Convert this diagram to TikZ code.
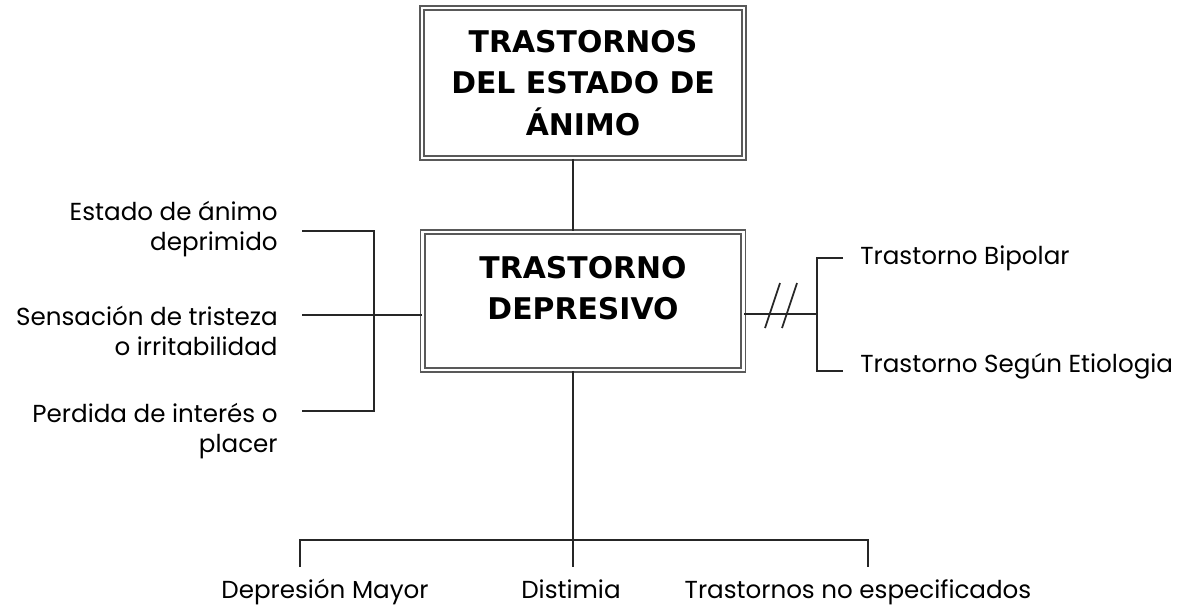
\documentclass[tikz,border=0pt]{standalone}
\usepackage{fontspec}
\setmainfont{Poppins}
\newfontfamily\titlefont{DejaVu Sans}
\usetikzlibrary{positioning, calc}

\tikzset{
  titlebox/.style={draw=black!65, double=white, double distance=1.6pt, line width=0.9pt,
    align=center, font=\titlefont\bfseries\fontsize{17}{23.5}\selectfont},
  item/.style={font=\fontsize{14}{17.5}\selectfont, inner sep=0pt},
  wire/.style={line width=1pt, black!85}
}

\begin{document}
\begin{tikzpicture}[x=0.02cm, y=-0.02cm]
    \useasboundingbox (0,0) rectangle (1190,613);

    % Boxes
    \node[titlebox, minimum width=6.44cm, minimum height=3.0cm] (estado) at (583,83) {TRASTORNOS\\DEL ESTADO DE\\ÁNIMO};
    \node[titlebox, minimum width=6.42cm, minimum height=2.76cm] (depresivo) at (583,301) {};
    \node[align=center, font=\titlefont\bfseries\fontsize{17}{23.5}\selectfont] (deptext) at (583,288) {TRASTORNO\\DEPRESIVO};

    % Guide coordinates
    \coordinate (trunk) at (573,0);
    \coordinate (lspine) at (374,0);
    \coordinate (rspine) at (817,314);
    \coordinate (bar) at (0,540);

    % Main trunk
    \draw[wire] (estado.south -| trunk) -- (depresivo.north -| trunk);

    % Symptoms (left)
    \node[item, align=right, anchor=east] (sint1) at (278,229) {Estado de ánimo\\deprimido};
    \node[item, align=right, anchor=east] (sint2) at (278,331) {Sensación de tristeza\\o irritabilidad};
    \node[item, align=right, anchor=east] (sint3) at (278,431) {Perdida de interés o\\placer};
    \coordinate (l1) at (302,231);
    \coordinate (l2) at (302,315);
    \coordinate (l3) at (302,411);
    \draw[wire] (l1) -- (l1 -| lspine) -- (l3 -| lspine) -- (l3);
    \draw[wire] (l2) -- (l2 -| depresivo.west);

    % Other disorders (right)
    \draw[wire] (rspine -| depresivo.east) -- (rspine);
    \draw[wire] (765,328) -- (780,283);
    \draw[wire] (782,328) -- (797,283);
    \coordinate (r1) at (843,258);
    \coordinate (r2) at (843,371);
    \draw[wire] (r1) -- (r1 -| rspine) -- (r2 -| rspine) -- (r2);
    \node[item, anchor=west] (bipolar) at (860,258) {Trastorno Bipolar};
    \node[item, anchor=west] (etiologia) at (860,366) {Trastorno Según Etiologia};

    % Types (bottom)
    \node[item, anchor=base] (mayor) at (325,598) {Depresión Mayor};
    \node[item, anchor=base] (distimia) at (571,598) {Distimia};
    \node[item, anchor=base] (noesp) at (858,598) {Trastornos no especificados};
    \coordinate (b1) at (300,567);
    \coordinate (b3) at (868,567);
    \draw[wire] (depresivo.south -| trunk) -- (trunk |- b1);
    \draw[wire] (b1) -- (b1 |- bar) -- (b3 |- bar) -- (b3);
\end{tikzpicture}
\end{document}
